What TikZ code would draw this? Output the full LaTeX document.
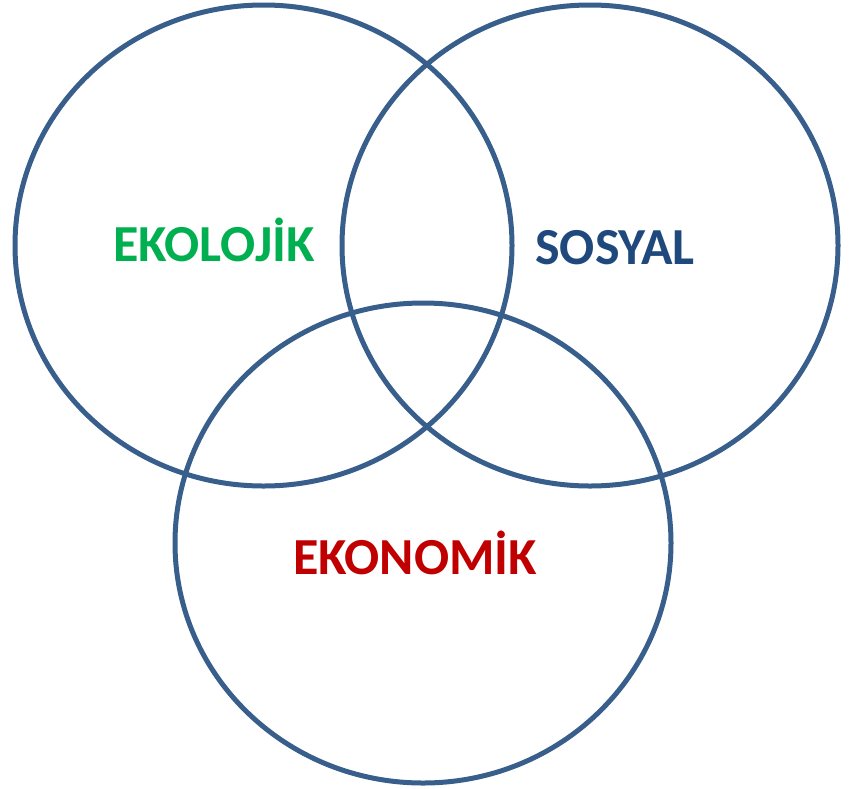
\documentclass[tikz,border=0pt]{standalone}
\usepackage{fontspec}
\setmainfont{Carlito}
\definecolor{ring}{RGB}{56,94,140}
\definecolor{ekogreen}{RGB}{0,176,80}
\definecolor{sosblue}{RGB}{31,73,125}
\definecolor{ekored}{RGB}{192,0,0}
\begin{document}
\begin{tikzpicture}[x=1pt,y=-1pt,
  ringline/.style={draw=ring,line width=5pt},
  label/.style={font=\fontsize{52}{56}\selectfont\bfseries,anchor=base,inner sep=0pt}]
\useasboundingbox (0,0) rectangle (849,788);
\draw[ringline] (263.5,245.5) ellipse [x radius=248.5pt, y radius=240.5pt];
\draw[ringline] (590,245.5) ellipse [x radius=248pt, y radius=240.5pt];
\draw[ringline] (423,543) ellipse [x radius=248pt, y radius=240pt];
\node[label,text=ekogreen] (eko) at (214,261) {EKOLOJİK};
\node[label,text=sosblue] (sos) at (615,264) {SOSYAL};
\node[label,text=ekored] (ekn) at (415,574) {EKONOMİK};
\end{tikzpicture}
\end{document}
